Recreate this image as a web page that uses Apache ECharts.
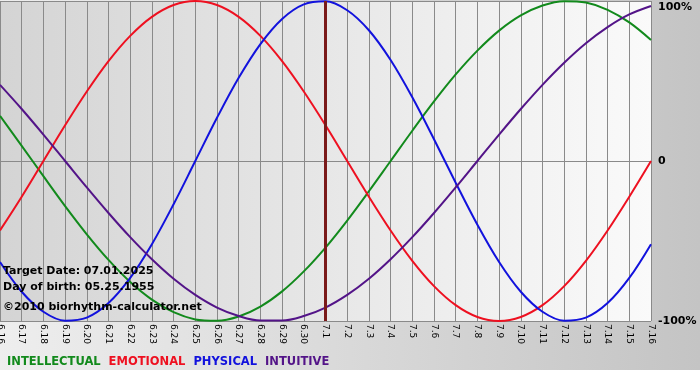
<!DOCTYPE html>
<html>
<head>
<meta charset="utf-8">
<script src="https://cdn.jsdelivr.net/npm/echarts@6/dist/echarts.min.js"></script>
<style>html,body{margin:0;padding:0;background:#fff}#c{width:700px;height:380px}</style>
</head>
<body>
<div id="c"></div>
<script>
var days = ['6.16','6.17','6.18','6.19','6.20','6.21','6.22','6.23','6.24','6.25','6.26','6.27','6.28','6.29','6.30',
  '7.1','7.2','7.3','7.4','7.5','7.6','7.7','7.8','7.9','7.10','7.11','7.12','7.13','7.14','7.15','7.16'];
var intellectual = [0.282,0.095,-0.095,-0.282,-0.458,-0.618,-0.756,-0.866,-0.945,-0.990,-0.999,-0.972,-0.910,-0.815,-0.690,
  -0.541,-0.372,-0.189,0,0.189,0.372,0.541,0.690,0.815,0.910,0.972,0.999,0.990,0.945,0.866,0.756];
var emotional = [-0.434,-0.223,0,0.223,0.434,0.624,0.782,0.901,0.975,1,0.975,0.901,0.782,0.624,0.434,
  0.223,0,-0.223,-0.434,-0.624,-0.782,-0.901,-0.975,-1,-0.975,-0.901,-0.782,-0.624,-0.434,-0.223,0];
var physical = [-0.631,-0.817,-0.942,-0.998,-0.979,-0.888,-0.731,-0.520,-0.270,0,0.270,0.520,0.731,0.888,0.979,
  0.998,0.942,0.817,0.631,0.398,0.136,-0.136,-0.398,-0.631,-0.817,-0.942,-0.998,-0.979,-0.888,-0.731,-0.520];
var intuitive = [0.476,0.325,0.165,0,-0.165,-0.325,-0.476,-0.614,-0.736,-0.837,-0.916,-0.969,-0.997,-0.997,-0.969,
  -0.916,-0.837,-0.736,-0.614,-0.476,-0.325,-0.165,0,0.165,0.325,0.476,0.614,0.736,0.837,0.916,0.969];
var seriesNames = ['INTELLECTUAL','EMOTIONAL','PHYSICAL','INTUITIVE'];
var seriesColors = ['#128a1c','#ee1020','#1212dd','#531488'];
var targetDay = '7.1';
var infoLines = ['Target Date: 07.01.2025','Day of birth: 05.25.1955','\u00a92010 biorhythm-calculator.net'];
var yTickLabels = {'1':'100%','0':'0','-1':'-100%'};

var chart = echarts.init(document.getElementById('c'), null, {renderer:'canvas'});
var values = [intellectual, emotional, physical, intuitive];
var series = values.map(function(v, i){
  var s = {
    name: seriesNames[i], type:'line', data: v, smooth: 0.35, showSymbol:false, clip:false,
    lineStyle:{color: seriesColors[i], width:2}, itemStyle:{color: seriesColors[i]}, z: 3
  };
  if (i === 0) {
    s.markLine = {symbol:'none', silent:true, animation:false, label:{show:false},
      lineStyle:{color:'#7a1a1a', width:3, type:'solid'}, data:[{xAxis: targetDay}]};
  }
  return s;
});
var titleFont = {fontFamily:'DejaVu Sans', fontWeight:'bold', fontSize:11, color:'#000'};
chart.setOption({
  animation:false,
  backgroundColor: new echarts.graphic.LinearGradient(0,0,1,0,[{offset:0,color:'#eeeeee'},{offset:1,color:'#c4c4c4'}]),
  title: [
    {text: infoLines[0], left:3, top:266, padding:0, textStyle:titleFont},
    {text: infoLines[1], left:3, top:282, padding:0, textStyle:titleFont},
    {text: infoLines[2], left:3, top:302, padding:0, textStyle:titleFont}
  ],
  graphic: [{type:'rect', left:0, bottom:0, shape:{width:700, height:10}, style:{fill:'#ffffff'}, z:-10}],
  legend: {
    left:2, top:356, padding:0, icon:'rect', itemWidth:0, itemHeight:0, itemGap:3, selectedMode:false,
    textStyle:{fontFamily:'DejaVu Sans', fontWeight:'bold', fontSize:11.5},
    data: seriesNames.map(function(n,i){ return {name:n, textStyle:{color:seriesColors[i]}}; })
  },
  grid: {left:0, right:49, top:1, bottom:59, containLabel:false, outerBoundsMode:'none', show:true, borderWidth:0,
    backgroundColor: new echarts.graphic.LinearGradient(0,0,1,0,[{offset:0,color:'#d4d4d4'},{offset:1,color:'#fafafa'}])},
  xAxis: {
    type:'category', data: days, boundaryGap:false,
    axisLine:{show:true, lineStyle:{color:'#8a8a8a', width:1}},
    axisTick:{show:true, length:3, alignWithLabel:true, lineStyle:{color:'#8a8a8a'}},
    splitLine:{show:true, lineStyle:{color:'#8a8a8a', width:1}},
    axisLabel:{rotate:-90, interval:0, margin:3, fontFamily:'DejaVu Sans', fontSize:9, color:'#000'}
  },
  yAxis: {
    type:'value', min:-1, max:1, interval:1, position:'right',
    axisLine:{show:false}, axisTick:{show:false},
    splitLine:{show:true, lineStyle:{color:'#8a8a8a', width:1}},
    axisLabel:{margin:7, fontFamily:'DejaVu Sans', fontWeight:'bold', fontSize:11, color:'#000',
      formatter:function(v){ var t = yTickLabels[String(v)]; return v === 1 ? '{t|' + t + '}' : t; },
      rich:{t:{fontFamily:'DejaVu Sans', fontWeight:'bold', fontSize:11, color:'#000', padding:[12,0,0,0]}}}
  },
  series: series
});
</script>
</body>
</html>
